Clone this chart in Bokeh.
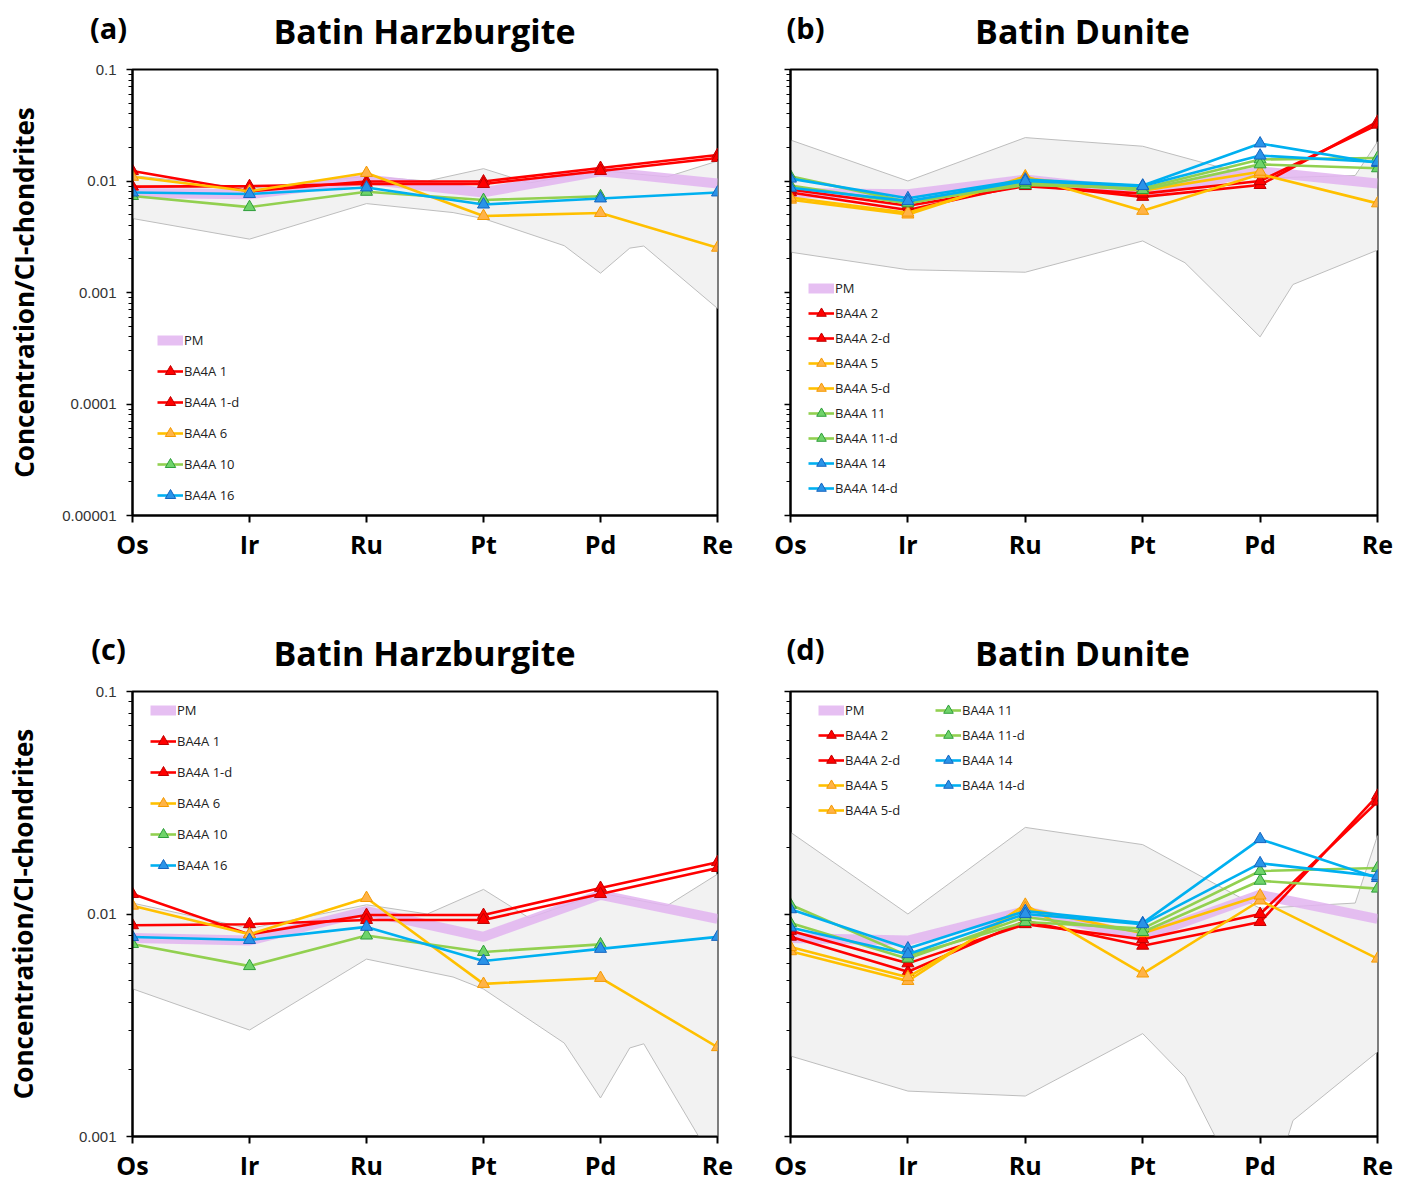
import numpy as np
from bokeh.plotting import figure
from bokeh.layouts import column, row
from bokeh.models import (Range1d, FixedTicker, CustomJSTickFormatter, Legend,
                          LegendItem)
from bokeh.core.properties import value
from bokeh.embed import file_html
from bokeh.resources import INLINE

nan = float("nan")

# ---------------- data ----------------
elements = ["Os", "Ir", "Ru", "Pt", "Pd", "Re"]

pm = [0.0078, 0.0076, 0.0103, 0.0079, 0.0122, 0.0095]

# Harzburgite samples
harz_names = ["BA4A 1", "BA4A 1-d", "BA4A 6", "BA4A 10", "BA4A 16"]
harz_groups = ["red", "red", "yellow", "green", "blue"]
ba4a_1 = [0.0123, 0.0081, 0.0099, 0.0099, 0.0131, 0.0171]
ba4a_1d = [0.0089, 0.0090, 0.0094, 0.0094, 0.0123, 0.0161]
ba4a_6 = [0.0109, 0.0081, 0.0118, 0.00485, 0.00516, 0.00252]
ba4a_10 = [0.00733, 0.00583, 0.0080, 0.00675, 0.0073, nan]
ba4a_16 = [0.00788, 0.00764, 0.00875, 0.00615, 0.00697, 0.00789]
harz_values = [ba4a_1, ba4a_1d, ba4a_6, ba4a_10, ba4a_16]

# Harzburgite envelope (element index position, value)
harz_env_up_x = [0, 1, 2, 2.52, 3, 3.39, 4, 4.57, 5]
harz_env_up_v = [0.0112, 0.0086, 0.0110, 0.0100, 0.0129, 0.0096, 0.0124, 0.0109, 0.0151]
harz_env_lo_x = [0, 1, 2, 2.74, 3, 3.69, 4, 4.25, 4.37, 5]
harz_env_lo_v = [0.00461, 0.00301, 0.00627, 0.00521, 0.0046, 0.00263, 0.00149, 0.0025, 0.00261, 0.00072]

# Dunite samples
dun_names = ["BA4A 2", "BA4A 2-d", "BA4A 5", "BA4A 5-d", "BA4A 11", "BA4A 11-d", "BA4A 14", "BA4A 14-d"]
dun_groups = ["red", "red", "yellow", "yellow", "green", "green", "blue", "blue"]
ba4a_2 = [0.0079, 0.0055, 0.0093, 0.0072, 0.0092, 0.0340]
ba4a_2d = [0.0084, 0.0060, 0.0090, 0.0077, 0.0100, 0.0320]
ba4a_5 = [0.0068, 0.0050, 0.0110, 0.0054, 0.0115, 0.0063]
ba4a_5d = [0.0071, 0.0052, 0.0106, 0.0082, 0.0121, nan]
ba4a_11 = [0.0110, 0.0065, 0.0092, 0.0086, 0.0156, 0.0161]
ba4a_11d = [0.0091, 0.0063, 0.0097, 0.0083, 0.0141, 0.0130]
ba4a_14 = [0.0105, 0.0070, 0.0103, 0.0091, 0.0217, 0.0145]
ba4a_14d = [0.0087, 0.0066, 0.0100, 0.0090, 0.0169, 0.0148]
dun_values = [ba4a_2, ba4a_2d, ba4a_5, ba4a_5d, ba4a_11, ba4a_11d, ba4a_14, ba4a_14d]

dun_env_up_x = [0, 1, 2, 3, 4, 4.81, 5]
dun_env_up_v = [0.0233, 0.0100, 0.0245, 0.0205, 0.0106, 0.0112, 0.0225]
dun_env_lo_x = [0, 1, 2, 3, 3.36, 4, 4.28, 5]
dun_env_lo_v = [0.0023, 0.0016, 0.00152, 0.0029, 0.00185, 0.00040, 0.00118, 0.0024]

panel_tags = ["(a)", "(b)", "(c)", "(d)"]
panel_titles = ["Batin Harzburgite", "Batin Dunite", "Batin Harzburgite", "Batin Dunite"]
y_title = "Concentration/CI-chondrites"

# ---------------- styles ----------------
STYLE = {
    "red": dict(line="#ff0000", fill="#ff0000", edge="#c00000"),
    "yellow": dict(line="#ffc000", fill="#ffb347", edge="#f59a00"),
    "green": dict(line="#92d050", fill="#6fd36a", edge="#2e9e3a"),
    "blue": dict(line="#00b0f0", fill="#2a93e8", edge="#1565c0"),
}
FONT = "Open Sans"


def make_header(width, height, tag, tag_pos, title, title_pos):
    """Strip above a panel holding its letter tag and title (pixel coordinates)."""
    h = figure(width=width, height=height, x_range=Range1d(0, width),
               y_range=Range1d(height, 0), output_backend="svg",
               toolbar_location=None, x_axis_location=None, y_axis_location=None,
               min_border=0, min_border_left=0, min_border_right=0,
               min_border_top=0, min_border_bottom=0)
    h.outline_line_color = None
    h.xgrid.visible = False
    h.ygrid.visible = False
    h.text(x=[title_pos[0]], y=[title_pos[1]], text=[title],
           text_align="center", text_baseline="middle",
           text_font=value(FONT), text_font_style="bold",
           text_font_size="34px", text_color="black")
    h.text(x=[tag_pos[0]], y=[tag_pos[1]], text=[tag],
           text_align="center", text_baseline="middle",
           text_font=value(FONT), text_font_style="bold",
           text_font_size="29px", text_color="black")
    return h


def make_panel(names, groups, values, env, y_lo, y_hi,
               ylabel_standoff, legend_specs, fw, fh, mb):
    p = figure(frame_width=fw, frame_height=fh,
               x_range=Range1d(0, 5), y_range=Range1d(y_lo, y_hi),
               y_axis_type="log", output_backend="svg", toolbar_location=None,
               min_border_left=mb[0], min_border_right=mb[1],
               min_border_top=mb[2], min_border_bottom=mb[3])
    p.xgrid.visible = False
    p.ygrid.visible = False
    p.outline_line_color = "black"
    p.outline_line_width = 2
    p.outline_line_alpha = 1
    p.background_fill_color = "white"
    p.border_fill_color = "white"

    # x axis
    xa = p.xaxis[0]
    xa.ticker = FixedTicker(ticks=list(range(len(elements))))
    xa.major_label_overrides = {i: e for i, e in enumerate(elements)}
    xa.major_label_text_font = FONT
    xa.major_label_text_font_style = "bold"
    xa.major_label_text_font_size = "25px"
    xa.major_label_text_color = "black"
    xa.major_label_standoff = 4
    xa.minor_tick_line_color = None
    xa.major_tick_in = 0
    xa.major_tick_out = 7
    xa.major_tick_line_width = 2
    xa.axis_line_width = 2
    xa.axis_line_color = "black"

    # y axis
    lo_e, hi_e = int(round(np.log10(y_lo))), int(round(np.log10(y_hi)))
    majors = [10.0 ** k for k in range(lo_e, hi_e + 1)]
    minors = [m * 10.0 ** k for k in range(lo_e, hi_e) for m in range(2, 10)]
    ya = p.yaxis[0]
    ya.ticker = FixedTicker(ticks=majors, minor_ticks=minors)
    ya.major_tick_in = 0
    ya.major_tick_out = 6
    ya.minor_tick_in = 0
    ya.minor_tick_out = 4
    ya.major_tick_line_width = 1.5
    ya.minor_tick_line_width = 1.2
    ya.axis_line_width = 2
    ya.axis_line_color = "black"
    if ylabel_standoff is not None:
        ya.formatter = CustomJSTickFormatter(
            code="const d = Math.max(0, -Math.round(Math.log10(tick))); return tick.toFixed(d);")
        ya.major_label_text_font = "Liberation Sans"
        ya.major_label_text_font_size = "15px"
        ya.major_label_text_color = "#333333"
        ya.major_label_standoff = 10
        ya.axis_label = y_title
        ya.axis_label_text_font = FONT
        ya.axis_label_text_font_style = "bold"
        ya.axis_label_text_font_size = "26px"
        ya.axis_label_text_color = "black"
        ya.axis_label_standoff = ylabel_standoff
    else:
        ya.formatter = CustomJSTickFormatter(code="return '';")
        ya.major_label_text_font_size = "0px"

    # envelope
    ux, uv, lx, lv = env
    p.patch(list(ux) + list(lx[::-1]), list(uv) + list(lv[::-1]),
            fill_color="#f2f2f2", line_color="#bdbdbd", line_width=1)

    xs = list(range(len(elements)))
    items = {}
    pm_r = p.line(xs, pm, line_color="#e2b4f0", line_alpha=0.85, line_width=10)
    items["PM"] = [pm_r]
    for name, grp, vals in zip(names, groups, values):
        st = STYLE[grp]
        arr = np.array(vals, dtype=float)
        lr = p.line(xs, arr, line_color=st["line"], line_width=2.6)
        sr = p.scatter(xs, arr, marker="triangle", size=12,
                       fill_color=st["fill"], line_color=st["edge"], line_width=1)
        items[name] = [lr, sr]

    for spec in legend_specs:
        labels, loc, gh, sp = spec
        leg = Legend(items=[LegendItem(label=l, renderers=items[l]) for l in labels],
                     location=loc, orientation="vertical",
                     glyph_width=26, glyph_height=gh, label_height=gh,
                     label_standoff=1, spacing=sp, padding=0, margin=0,
                     background_fill_alpha=0, border_line_alpha=0,
                     label_text_font=FONT, label_text_font_size="13px",
                     label_text_color="#222222")
        p.add_layout(leg)
    return p


harz_env = (harz_env_up_x, harz_env_up_v, harz_env_lo_x, harz_env_lo_v)
dun_env = (dun_env_up_x, dun_env_up_v, dun_env_lo_x, dun_env_lo_v)
harz_labels = ["PM"] + harz_names
dun_labels = ["PM"] + dun_names

LW, RW = 758, 642  # left / right column widths

ha = make_header(LW, 55, panel_tags[0], (108, 27), panel_titles[0], (424, 30))
hb = make_header(RW, 55, panel_tags[1], (47, 27), panel_titles[1], (324, 30))
pa = make_panel(harz_names, harz_groups, harz_values, harz_env, 1e-5, 0.1, 17,
                [(harz_labels, (25, 7), 26, 5)], 585, 446, (132, 41, 14, 83))
pb = make_panel(dun_names, dun_groups, dun_values, dun_env, 1e-5, 0.1, None,
                [(dun_labels, (18, 15), 24, 1)], 587, 446, (32, 23, 14, 83))
hc = make_header(LW, 82, panel_tags[2], (108, 50), panel_titles[2], (424, 54))
hd = make_header(RW, 82, panel_tags[3], (47, 50), panel_titles[3], (324, 54))
pc = make_panel(harz_names, harz_groups, harz_values, harz_env, 1e-3, 0.1, 35,
                [(harz_labels, (18, 258), 26, 5)], 585, 445, (132, 41, 11, 45))
pd = make_panel(dun_names, dun_groups, dun_values, dun_env, 1e-3, 0.1, None,
                [(dun_labels[:5], (28, 314), 24, 1),
                 (dun_labels[5:], (145, 339), 24, 1)], 587, 445, (32, 23, 11, 45))

layout = column(row(ha, hb), row(pa, pb), row(hc, hd), row(pc, pd))
open("out.html", "w").write(file_html(layout, INLINE))
